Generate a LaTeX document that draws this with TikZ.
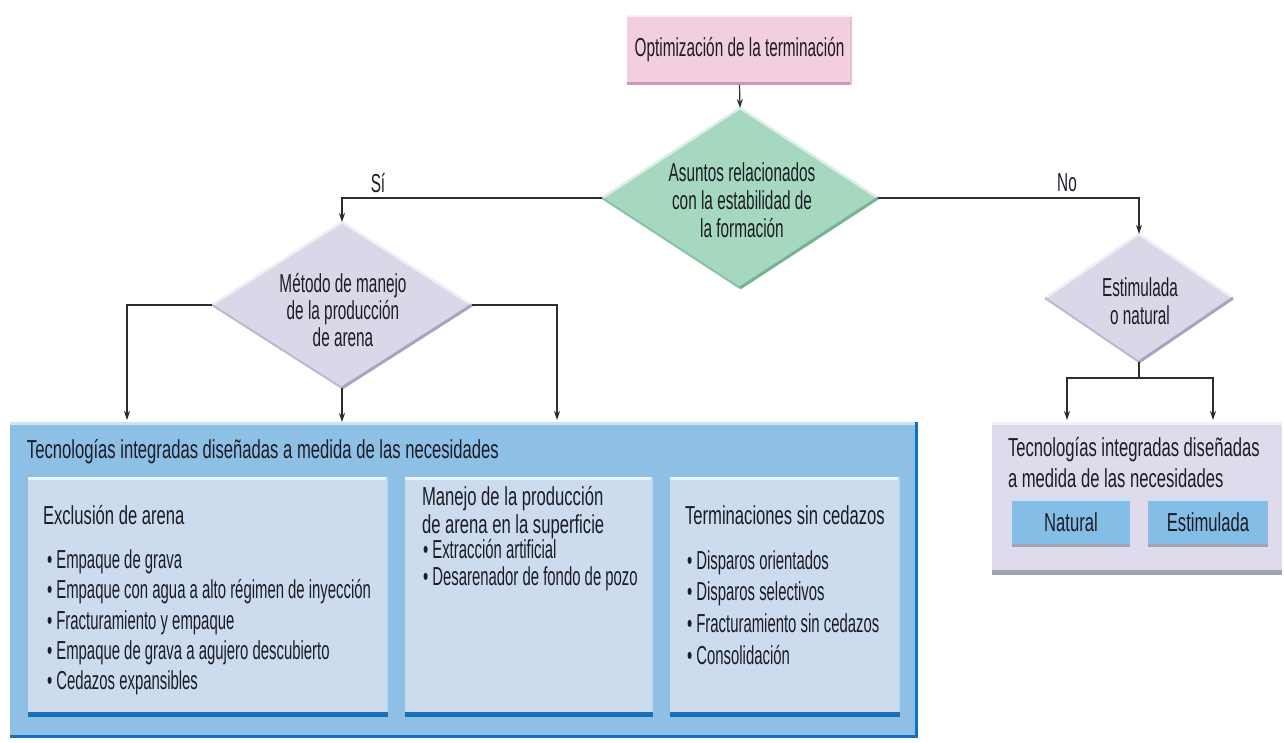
\documentclass[tikz,border=0pt]{standalone}
\usepackage{fontspec}
\setmainfont[FakeStretch=0.59]{Liberation Sans}
\newfontfamily\fhead[FakeStretch=0.64]{Liberation Sans}
\newfontfamily\flist[FakeStretch=0.573]{Liberation Sans}
\usetikzlibrary{shapes.geometric,arrows.meta}
\definecolor{pinkf}{RGB}{242,206,224}
\definecolor{pinke}{RGB}{205,150,178}
\definecolor{greenf}{RGB}{166,216,192}
\definecolor{greene}{RGB}{118,178,150}
\definecolor{lavf}{RGB}{219,215,233}
\definecolor{lave}{RGB}{168,164,190}
\definecolor{bluebg}{RGB}{142,192,230}
\definecolor{bluedk}{RGB}{24,112,186}
\definecolor{innerf}{RGB}{204,219,238}
\definecolor{innertop}{RGB}{234,243,252}
\definecolor{panelf}{RGB}{223,219,236}
\definecolor{panele}{RGB}{160,164,176}
\definecolor{btnf}{RGB}{132,190,230}
\definecolor{ink}{RGB}{28,28,36}
\definecolor{linec}{RGB}{45,45,45}
\begin{document}
\begin{tikzpicture}[x=1pt,y=-1pt,
  txt/.style={font=\fontsize{26}{28}\selectfont, text=ink, inner sep=0pt, outer sep=0pt},
  rbox/.style={draw=none, inner sep=0pt, outer sep=0pt, text=ink, font=\fontsize{26}{28}\selectfont},
  dia/.style={diamond, draw=none, inner sep=0pt, outer sep=0pt},
  arr/.style={draw=linec, line width=1.2pt, -{Stealth[length=9pt,width=6pt]}},
  ln/.style={draw=linec, line width=1.2pt}
]
\useasboundingbox (0,0) rectangle (1284,742);
\fill[white] (0,0) rectangle (1284,742);

% top box
\node[rbox, fill=pinkf, minimum width=225pt, minimum height=70pt] (top) at (739.5,50) {Optimización de la terminación};
\draw[pinke, line width=3pt] ([yshift=1.5pt]top.south west) -- ([yshift=1.5pt]top.south east);
\draw[pinke!60, line width=2pt] ([xshift=-1pt]top.north east) -- ([xshift=-1pt]top.south east);
\draw[white!70!pinkf, line width=2pt] ([yshift=-1pt]top.north west) -- ([yshift=-1pt]top.north east);

% diamonds
\node[dia, fill=greenf, minimum width=276pt, minimum height=180pt] (d1) at (740,198) {};
\draw[white!60!greenf, line width=2.5pt, line join=round] (d1.west) -- (d1.north) -- (d1.east);
\draw[greene, line width=3pt, line join=round] (d1.east) -- (d1.south);
\draw[greene!60!greenf, line width=2pt] (d1.south) -- (d1.west);
\node[txt, align=center] (d1t) at (742,200) {Asuntos relacionados\\con la estabilidad de\\la formación};

\node[dia, fill=lavf, minimum width=260pt, minimum height=166pt] (d2) at (342,305) {};
\draw[white!60!lavf, line width=2.5pt, line join=round] (d2.west) -- (d2.north) -- (d2.east);
\draw[lave, line width=3pt, line join=round] (d2.east) -- (d2.south);
\draw[lave!60!lavf, line width=2pt] (d2.south) -- (d2.west);
\node[txt, align=center, font=\fontsize{26}{27}\selectfont] (d2t) at (343,310) {Método de manejo\\de la producción\\de arena};

\node[dia, fill=lavf, minimum width=188pt, minimum height=128pt] (d3) at (1139,298) {};
\draw[white!60!lavf, line width=2.5pt, line join=round] (d3.west) -- (d3.north) -- (d3.east);
\draw[lave, line width=3pt, line join=round] (d3.east) -- (d3.south);
\draw[lave!60!lavf, line width=2pt] (d3.south) -- (d3.west);
\node[txt, align=center] (d3t) at (1140,301) {Estimulada\\o natural};

% big blue box
\node[rbox, fill=bluebg, minimum width=908pt, minimum height=316pt] (big) at (464,580) {};
\draw[white!55!bluebg, line width=3pt] ([yshift=-1.5pt]big.north west) -- ([yshift=-1.5pt]big.north east);
\draw[bluedk, line width=3pt, line join=miter] ([xshift=-1.5pt]big.north east) -- ([shift={(-1.5pt,1.5pt)}]big.south east) -- ([yshift=1.5pt]big.south west);
\node[txt, anchor=west, font=\fhead\fontsize{26}{28}\selectfont] (bigt) at (27,452) {Tecnologías integradas diseñadas a medida de las necesidades};

% inner boxes
\node[rbox, fill=innerf, minimum width=360pt, minimum height=240pt] (b1) at (208,597) {};
\node[rbox, fill=innerf, minimum width=248pt, minimum height=240pt] (b2) at (529,597) {};
\node[rbox, fill=innerf, minimum width=230pt, minimum height=240pt] (b3) at (785,597) {};
\foreach \b in {b1,b2,b3}{
  \draw[innertop, line width=3pt] ([yshift=-1.5pt]\b.north west) -- ([yshift=-1.5pt]\b.north east);
  \draw[innerf!80!bluebg, line width=2pt] ([xshift=-1pt]\b.north east) -- ([xshift=-1pt]\b.south east);
  \draw[bluedk, line width=5pt] ([yshift=2.5pt]\b.south west) -- ([yshift=2.5pt]\b.south east);
}
\node[txt, anchor=west, font=\fhead\fontsize{26}{28}\selectfont] (b1h) at (43,515) {Exclusión de arena};
\node[txt, anchor=west, align=left, font=\flist\fontsize{26}{30.3}\selectfont] (b1l) at (47,622.5) {• Empaque de grava\\• Empaque con agua a alto régimen de inyección\\• Fracturamiento y empaque\\• Empaque de grava a agujero descubierto\\• Cedazos expansibles};
\node[txt, anchor=west, align=left, font=\fhead\fontsize{26}{28.5}\selectfont] (b2h) at (422,512.5) {Manejo de la producción\\de arena en la superficie};
\node[txt, anchor=west, align=left, font=\flist\fontsize{26}{26.5}\selectfont] (b2l) at (423,565) {• Extracción artificial\\• Desarenador de fondo de pozo};
\node[txt, anchor=west, font=\fhead\fontsize{26}{28}\selectfont] (b3h) at (685,515) {Terminaciones sin cedazos};
\node[txt, anchor=west, align=left, font=\flist\fontsize{26}{31.7}\selectfont] (b3l) at (687,607.5) {• Disparos orientados\\• Disparos selectivos\\• Fracturamiento sin cedazos\\• Consolidación};

% right panel
\node[rbox, fill=panelf, minimum width=290pt, minimum height=153pt] (rp) at (1137,498.5) {};
\draw[white!60!panelf, line width=3pt] ([yshift=-1.5pt]rp.north west) -- ([yshift=-1.5pt]rp.north east);
\draw[panele, line width=5pt] ([yshift=2.5pt]rp.south west) -- ([yshift=2.5pt]rp.south east);
\node[txt, anchor=west, align=left, font=\fhead\fontsize{26}{31}\selectfont] (rpt) at (1008,462.5) {Tecnologías integradas diseñadas\\a medida de las necesidades};
\node[rbox, font=\fhead\fontsize{26}{28}\selectfont, fill=btnf, minimum width=118pt, minimum height=49pt] (n1) at (1071,522.5) {Natural};
\node[rbox, font=\fhead\fontsize{26}{28}\selectfont, fill=btnf, minimum width=120pt, minimum height=49pt] (n2) at (1208,522.5) {Estimulada};
\foreach \b in {n1,n2}{
  \draw[white!55!btnf, line width=2.5pt] ([yshift=-1.25pt]\b.north west) -- ([yshift=-1.25pt]\b.north east);
  \draw[panele, line width=3.5pt] ([yshift=1.75pt]\b.south west) -- ([yshift=1.75pt]\b.south east);
}

% connectors
\draw[arr] (top.south) -- (d1.north);
\draw[arr] (d1.west) -| (d2.north);
\draw[arr] (d1.east) -| (d3.north);
\node[txt] (si) at (378,183) {Sí};
\node[txt] (no) at (1067,183) {No};

\coordinate (t1) at (127,420);
\coordinate (t3) at (557,420);
\draw[arr] (d2.west) -| (t1);
\draw[arr] (d2.east) -| (t3);
\draw[arr] (d2.south) -- (d2.south |- big.north);

\coordinate (j) at (1139,378);
\coordinate (r1) at (1067,420);
\coordinate (r2) at (1213,420);
\draw[ln] (d3.south) -- (j);
\draw[arr] (j) -| (r1);
\draw[arr] (j) -| (r2);
\end{tikzpicture}
\end{document}
